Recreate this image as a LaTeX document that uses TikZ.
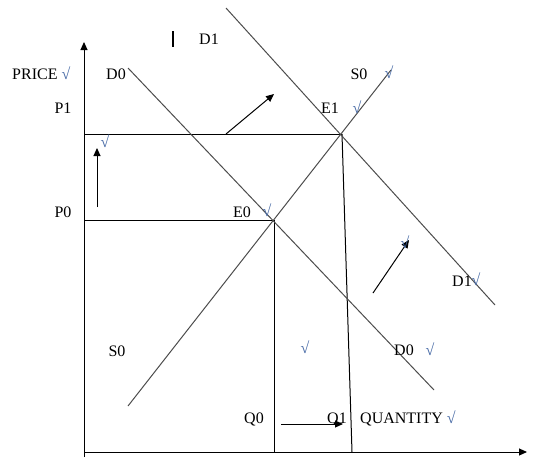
\documentclass[tikz,border=0pt]{standalone}
\usepackage{fontspec}
\setmainfont{Liberation Serif}
\usepackage{tikz}
\usetikzlibrary{arrows.meta}
\definecolor{tickblue}{RGB}{70,105,165}
\tikzset{
    axisline/.style={draw=black, line width=1pt, -{Triangle[length=8pt,width=7pt]}},
    guideline/.style={draw=black, line width=1pt},
    curveline/.style={draw=black!70, line width=1pt},
    shiftarrow/.style={draw=black, line width=1pt, -{Triangle[length=8pt,width=7pt]}},
    graphlabel/.style={anchor=base, inner sep=0pt, font=\fontsize{16}{19}\selectfont},
    ticksign/.style={anchor=base, inner sep=0pt, text=tickblue, font=\fontsize{16}{19}\selectfont}
}
\begin{document}
\begin{tikzpicture}[x=1pt, y=-1pt]
        \useasboundingbox (0,0) rectangle (536,466);
        \coordinate (ybot) at (84,457);
        \coordinate (ytop) at (84,42);
        \coordinate (origin) at (84,452);
        \coordinate (xend) at (527,452);
        \coordinate (P1) at (84,134);
        \coordinate (P0) at (84,220);
        \coordinate (E1) at (342,134);
        \coordinate (E0) at (274,220);
        \coordinate (Q0) at (274,452);
        \coordinate (Q1) at (352,452);
        \coordinate (d0a) at (128,68);
        \coordinate (d0b) at (434,390);
        \coordinate (d1a) at (226,8);
        \coordinate (d1b) at (495,305);
        \coordinate (s0a) at (128,406);
        \coordinate (s0b) at (391,70);
        \coordinate (upa) at (97,207);
        \coordinate (upb) at (97,148);
        \coordinate (shifta) at (226,134);
        \coordinate (shiftb) at (274,94);
        \coordinate (shiftc) at (373,293);
        \coordinate (shiftd) at (409,240);
        \coordinate (qa) at (281,424);
        \coordinate (qb) at (343,424);
        \coordinate (bara) at (173,31);
        \coordinate (barb) at (173,47);
        \draw[axisline] (ybot) -- (ytop);
        \draw[axisline] (origin) -- (xend);
        \draw[guideline] (P1) -- (E1);
        \draw[guideline] (P0) -- (E0);
        \draw[guideline] (E0) -- (Q0);
        \draw[guideline] (E1) -- (Q1);
        \draw[curveline] (d0a) -- (d0b);
        \draw[curveline] (d1a) -- (d1b);
        \draw[curveline] (s0a) -- (s0b);
        \draw[shiftarrow] (upa) -- (upb);
        \draw[shiftarrow] (shifta) -- (shiftb);
        \draw[shiftarrow] (shiftc) -- (shiftd);
        \draw[shiftarrow] (qa) -- (qb);
        \draw[line width=2pt] (bara) -- (barb);
        \node[graphlabel, anchor=base west] (price) at (12,79) {PRICE {\color{tickblue}√}};
        \node[graphlabel] (d0top) at (116,79) {D0};
        \node[graphlabel] (d1top) at (209,44) {D1};
        \node[graphlabel] (p1) at (63,113) {P1};
        \node[graphlabel] (p0) at (63,217) {P0};
        \node[graphlabel] (e0) at (242,217) {E0};
        \node[ticksign] (e0tick) at (267,216) {√};
        \node[graphlabel] (e1) at (330,113) {E1};
        \node[ticksign] (e1tick) at (357,113) {√};
        \node[graphlabel] (s0top) at (359,79) {S0};
        \node[ticksign] (s0tick) at (389,78) {√};
        \node[ticksign] (uptick) at (105,147) {√};
        \node[graphlabel] (s0bot) at (117,356) {S0};
        \node[graphlabel] (q0) at (254,423) {Q0};
        \node[graphlabel] (q1) at (337,423) {Q1};
        \node[graphlabel, anchor=base west] (quantity) at (360,423) {QUANTITY {\color{tickblue}√}};
        \node[ticksign] (midtick) at (305,353) {√};
        \node[graphlabel] (d0bot) at (404,355) {D0};
        \node[ticksign] (d0tick) at (430,355) {√};
        \node[graphlabel] (d1bot) at (462,286) {D1};
        \node[ticksign] (d1tick) at (476,285) {√};
        \node[ticksign] (arrtick) at (405,248) {√};
    \end{tikzpicture}
\end{document}
